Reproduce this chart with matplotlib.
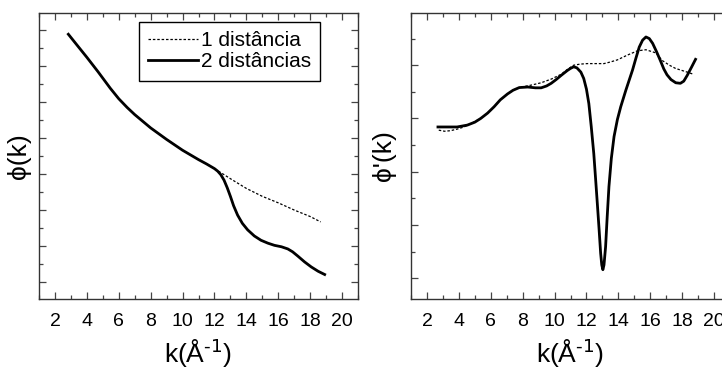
import matplotlib
matplotlib.use("Agg")
import matplotlib.pyplot as plt
from matplotlib.ticker import MultipleLocator, NullFormatter

plt.rcParams['font.family'] = ['Liberation Sans', 'DejaVu Sans']
plt.rcParams['mathtext.default'] = 'regular'

# phase, one and two distances
k1_a = [2.84, 3.4, 4.0, 4.7, 5.47, 6.0, 6.52, 7.0, 8.0, 9.0, 10.0, 11.0, 11.5, 12.0,
        13.0, 14.0, 15.0, 16.0, 17.0, 18.0, 18.66]
phi_a = [6.88, 6.57, 6.24, 5.84, 5.38, 5.09, 4.85, 4.65, 4.28, 3.96, 3.66, 3.40, 3.28, 3.15,
         2.87, 2.6, 2.38, 2.2, 2.0, 1.82, 1.67]
k2_a = [2.84, 3.4, 4.0, 4.7, 5.47, 6.0, 6.52, 7.0, 8.0, 9.0, 10.0, 11.0, 11.5, 12.0,
        12.2, 12.4, 12.6, 12.8, 13.0, 13.2, 13.45, 13.75, 14.08, 14.5, 14.92, 15.35, 15.76,
        16.2, 16.6, 16.9, 17.23, 17.65, 18.07, 18.5, 18.91]
phi2_a = [6.88, 6.57, 6.24, 5.84, 5.38, 5.09, 4.85, 4.65, 4.28, 3.96, 3.66, 3.40, 3.28, 3.15,
          3.08, 2.98, 2.83, 2.62, 2.38, 2.12, 1.86, 1.63, 1.45, 1.28, 1.16, 1.08, 1.02,
          0.98, 0.92, 0.84, 0.72, 0.56, 0.42, 0.30, 0.21]

# derivative of the phase
k1_b = [2.74, 3.1, 3.47, 3.9, 4.32, 4.8, 5.37, 5.8, 6.21, 6.6, 7.05, 7.4, 7.79, 8.1,
        8.6, 9.16, 9.8, 10.42, 10.8, 11.2, 11.6, 12.05, 12.6, 13.1, 13.5, 13.94,
        14.57, 15.2, 15.73, 16.36, 16.74, 17.2, 17.58, 18.0, 18.42, 18.7]
dphi_b = [2.78, 2.76, 2.77, 2.8, 2.84, 2.91, 3.0, 3.1, 3.22, 3.35, 3.46, 3.53, 3.58, 3.6,
          3.63, 3.67, 3.74, 3.83, 3.92, 4.0, 4.02, 4.03, 4.03, 4.03, 4.06, 4.1,
          4.19, 4.27, 4.29, 4.23, 4.09, 4.0, 3.94, 3.9, 3.86, 3.83]
k2_b = [2.69, 3.3, 3.89, 4.53, 5.0, 5.37, 5.8, 6.21, 6.6, 7.05, 7.4, 7.79, 8.32, 8.8,
        9.16, 9.5, 9.79, 10.1, 10.42, 10.8, 11.0, 11.2, 11.4, 11.65, 11.83, 12.0, 12.15,
        12.3, 12.46, 12.57, 12.68, 12.79, 12.89, 12.96, 13.03, 13.1, 13.2, 13.3, 13.41,
        13.56, 13.73, 13.94, 14.15, 14.47, 14.89, 15.1, 15.31, 15.52, 15.73, 15.94, 16.15,
        16.4, 16.63, 16.85, 17.05, 17.3, 17.6, 17.89, 18.1, 18.32, 18.6, 18.84]
dphi2_b = [2.84, 2.84, 2.84, 2.875, 2.93, 3.0, 3.1, 3.22, 3.35, 3.46, 3.53, 3.58, 3.59, 3.575,
           3.575, 3.61, 3.66, 3.73, 3.81, 3.9, 3.94, 3.97, 3.95, 3.87, 3.75, 3.55, 3.28,
           2.85, 2.34, 1.88, 1.41, 0.93, 0.47, 0.25, 0.16, 0.25, 0.59, 1.15, 1.72,
           2.25, 2.66, 2.98, 3.22, 3.53, 3.91, 4.13, 4.34, 4.47, 4.53, 4.5, 4.41,
           4.25, 4.09, 3.93, 3.82, 3.73, 3.67, 3.66, 3.70, 3.81, 3.97, 4.11]

fig = plt.figure(figsize=(7.22, 3.69), dpi=100)
ax1 = fig.add_axes([39/722, 70/369, 319/722, 286/369])
ax2 = fig.add_axes([411/722, 70/369, 319/722, 286/369])

for ax in (ax1, ax2):
    ax.set_xlim(1, 21)
    ax.xaxis.set_major_locator(MultipleLocator(2))
    ax.xaxis.set_minor_locator(MultipleLocator(1))
    ax.yaxis.set_major_formatter(NullFormatter())
    ax.tick_params(which='both', direction='in', top=True, right=True,
                   color='#444444', labelsize=14, pad=10)
    ax.tick_params(which='major', length=5, width=0.9)
    ax.tick_params(which='minor', length=3, width=0.9)
    for s in ax.spines.values():
        s.set_linewidth(1.0)
        s.set_color('#333333')
    ax.set_xlabel(r'k(Å$^{\text{-1}}$)', fontsize=19, labelpad=5)

ax1.set_ylim(-0.47, 7.47)
ax1.yaxis.set_major_locator(MultipleLocator(1))
ax1.yaxis.set_minor_locator(MultipleLocator(0.5))
ax1.plot(k1_a, phi_a, color='black', lw=0.9, ls=(0, (2, 1.5)), label='1 distância')
ax1.plot(k2_a, phi2_a, color='black', lw=2.0, label='2 distâncias')
ax1.set_ylabel('ϕ(k)', fontsize=19)
ax1.yaxis.set_label_coords(-0.024, 0.5)
leg = ax1.legend(loc='upper right', bbox_to_anchor=(0.881, 0.97), borderaxespad=0,
                 fontsize=15, handlelength=2.4, handletextpad=0.1, fancybox=False,
                 framealpha=1, edgecolor='black', borderpad=0.45, labelspacing=0.12)
leg.get_frame().set_linewidth(1.0)

ax2.set_ylim(-0.39, 4.98)
ax2.yaxis.set_major_locator(MultipleLocator(1))
ax2.yaxis.set_minor_locator(MultipleLocator(0.5))
ax2.plot(k1_b, dphi_b, color='black', lw=0.9, ls=(0, (2, 1.5)))
ax2.plot(k2_b, dphi2_b, color='black', lw=2.0)
ax2.set_ylabel("ϕ'(k)", fontsize=19)
ax2.yaxis.set_label_coords(-0.047, 0.5)

fig.savefig('out.png', dpi=100)
